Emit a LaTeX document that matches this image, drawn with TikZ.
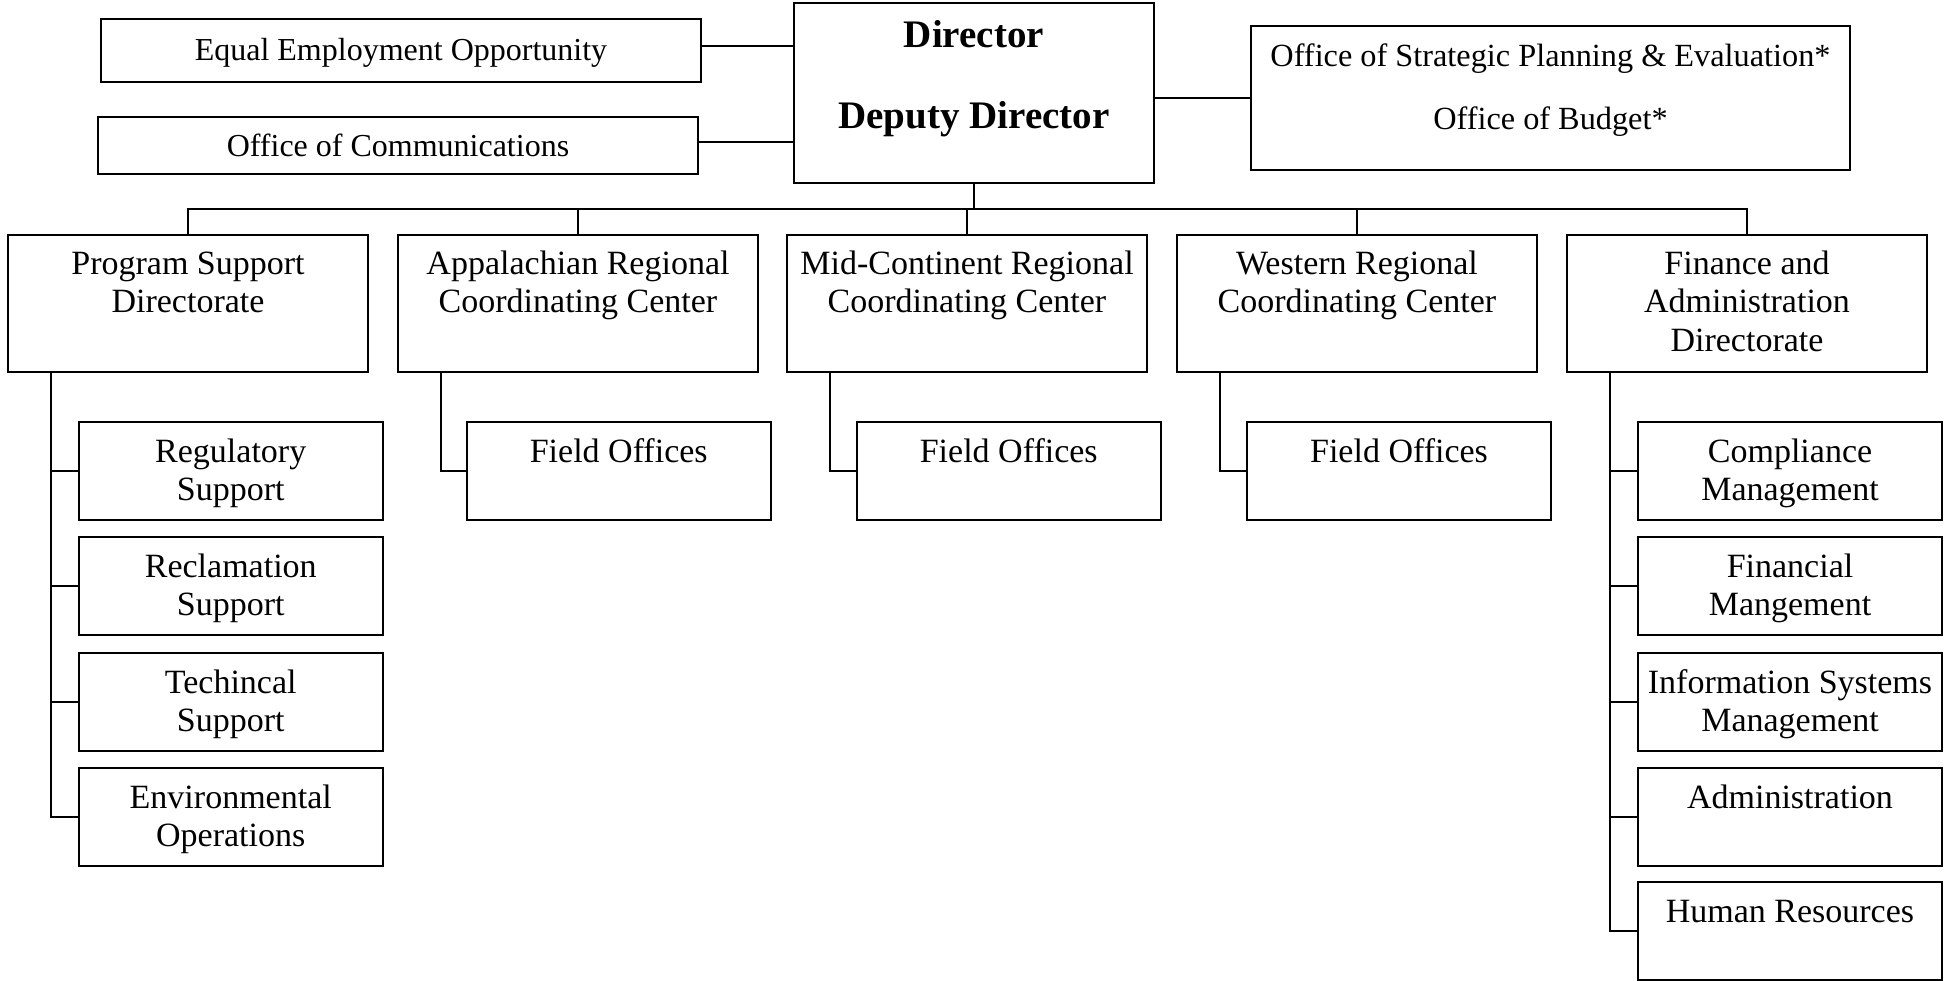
\documentclass[tikz,border=0pt]{standalone}
\usepackage{fontspec}
\setmainfont{Liberation Serif}
\begin{document}
\begin{tikzpicture}[x=1pt,y=-1pt,
  box/.style={draw, line width=2pt, inner sep=0pt, outer sep=0pt},
  txt/.style={anchor=base, inner sep=0pt, font=\fontsize{32}{38.5}\selectfont},
  btxt/.style={anchor=base, inner sep=0pt, font=\fontsize{34}{38.5}\selectfont},
  conn/.style={line width=2pt}]
\path[fill=white,use as bounding box] (0,0) rectangle (1944,981);

% ---- top level ----
\node[box, minimum width=360pt, minimum height=180pt] (dir) at (974,93) {};
\node[txt, font=\bfseries\fontsize{39}{47}\selectfont] (dirt) at (974,48)
  {\parbox[t]{350pt}{\centering Director\\[34pt]Deputy Director}};

\node[box, minimum width=600pt, minimum height=63pt] (eeo) at (401,50.5) {};
\node[txt] (eeot) at (401,61) {\parbox[t]{590pt}{\centering Equal Employment Opportunity}};

\node[box, minimum width=600pt, minimum height=57pt] (ooc) at (398,145.5) {};
\node[txt] (ooct) at (398,157) {\parbox[t]{590pt}{\centering Office of Communications}};

\node[box, minimum width=599pt, minimum height=144pt] (ospe) at (1550.5,98) {};
\node[txt, font=\fontsize{32.3}{38.5}\selectfont] (ospet) at (1550.5,67)
  {\parbox[t]{590pt}{\centering Office of Strategic Planning \& Evaluation*\\[24pt]Office of Budget*}};

% ---- second level ----
\foreach \nm/\cx/\tx in {
  psd/188/{Program Support\\Directorate},
  arcc/578/{Appalachian Regional\\Coordinating Center},
  mcrcc/967/{Mid-Continent Regional\\Coordinating Center},
  wrcc/1357/{Western Regional\\Coordinating Center},
  fad/1747/{Finance and\\Administration\\Directorate}}{
  \node[box, minimum width=360pt, minimum height=137pt] (\nm) at (\cx,303.5) {};
  \node[btxt] (\nm t) at (\cx,274.5) {\parbox[t]{356pt}{\centering \tx}};
}

% ---- third level ----
\foreach \nm/\cx/\cy/\tx in {
  reg/230.75/471/{Regulatory\\Support},
  recl/230.75/586/{Reclamation\\Support},
  tech/230.75/702/{Techincal\\Support},
  env/230.75/817/{Environmental\\Operations},
  fo1/618.75/471/{Field Offices},
  fo2/1008.75/471/{Field Offices},
  fo3/1399/471/{Field Offices},
  comp/1790/471/{Compliance\\Management},
  fin/1790/586/{Financial\\Mangement},
  info/1790/702/{Information Systems\\Management},
  adm/1790/817/{Administration},
  hr/1790/931/{Human Resources}}{
  \node[box, minimum width=304pt, minimum height=98pt] (\nm) at (\cx,\cy) {};
  \node[btxt] (\nm t) at (\cx,\cy-9) {\parbox[t]{302pt}{\centering \tx}};
}

% ---- connectors ----
\coordinate (bus) at (974,209);
\draw[conn] (dir.south) -- (bus);
\draw[conn] (psd.north) |- (bus) -| (fad.north);
\draw[conn] (arcc.north) -- (arcc.north |- bus);
\draw[conn] (mcrcc.north) -- (mcrcc.north |- bus);
\draw[conn] (wrcc.north) -- (wrcc.north |- bus);

\draw[conn] ([yshift=4.5pt]eeo.east) -- ([yshift=4.5pt]eeo.east -| dir.west);
\draw[conn] ([yshift=3.5pt]ooc.east) -- ([yshift=3.5pt]ooc.east -| dir.west);
\draw[conn] (ospe.west) -- (ospe.west -| dir.east);

\coordinate (psdl) at ([xshift=43pt]psd.south west);
\draw[conn] (psdl) |- (env.west);
\draw[conn] (reg.west) -- (reg.west -| psdl);
\draw[conn] (recl.west) -- (recl.west -| psdl);
\draw[conn] (tech.west) -- (tech.west -| psdl);

\draw[conn] ([xshift=43pt]arcc.south west) |- (fo1.west);
\draw[conn] ([xshift=43pt]mcrcc.south west) |- (fo2.west);
\draw[conn] ([xshift=43pt]wrcc.south west) |- (fo3.west);

\coordinate (fadl) at ([xshift=43pt]fad.south west);
\draw[conn] (fadl) |- (hr.west);
\draw[conn] (comp.west) -- (comp.west -| fadl);
\draw[conn] (fin.west) -- (fin.west -| fadl);
\draw[conn] (info.west) -- (info.west -| fadl);
\draw[conn] (adm.west) -- (adm.west -| fadl);
\end{tikzpicture}
\end{document}
